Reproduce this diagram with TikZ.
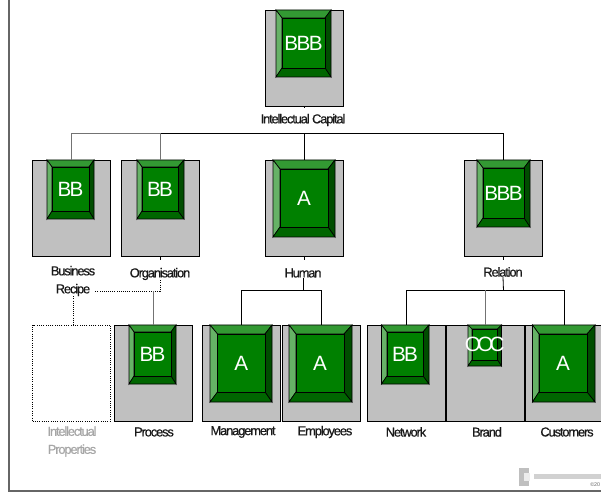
\documentclass[tikz,border=0pt]{standalone}
\usepackage{fontspec}
\setmainfont{Liberation Sans}
\newfontfamily\tightfont[LetterSpace=-9,FakeBold=0.7]{Liberation Sans}
\newfontfamily\capsfont[LetterSpace=-8]{Liberation Sans}
\newfontfamily\squeezefont[LetterSpace=-18]{Liberation Sans}
\usepackage{tikz}
\usetikzlibrary{calc}
\definecolor{pane}{HTML}{C0C0C0}
\definecolor{facegreen}{HTML}{008000}
\definecolor{bevtop}{HTML}{339933}
\definecolor{bevleft}{HTML}{66B266}
\definecolor{bevright}{HTML}{004D00}
\definecolor{bevbottom}{HTML}{006600}
\newcommand{\bevel}[6]{
\coordinate(#1a) at (#2);
\coordinate(#1b) at (#3);
\coordinate(#1c) at (#4);
\coordinate(#1d) at (#5);
\draw[bevline,fill=bevtop](#1a)--(#1a-|#1b)--(#1c-|#1d)--(#1c)--cycle;
\draw[bevline,fill=bevleft](#1a)--(#1c)--(#1c|-#1d)--(#1a|-#1b)--cycle;
\draw[bevline,fill=bevright](#1a-|#1b)--(#1b)--(#1d)--(#1c-|#1d)--cycle;
\draw[bevline,fill=bevbottom](#1a|-#1b)--(#1b)--(#1d)--(#1c|-#1d)--cycle;
\draw[bevline,fill=facegreen](#1c) rectangle (#1d);
\node[grade](#1) at ($(#1c)!.5!(#1d)$) {#6};
}
\begin{document}
\begin{tikzpicture}[x=0.75pt,y=-0.75pt]
\tikzstyle{bigbox}=[draw,line width=0.7pt,fill=pane,inner sep=0,minimum width=58.5pt,minimum height=72pt];
\tikzstyle{ghostbox}=[bigbox,fill=none,densely dotted];
\tikzstyle{bevline}=[line width=0.5pt,draw=black];
\tikzstyle{grade}=[text=white,font=\capsfont\fontsize{15.5}{15.5}\selectfont,inner sep=0];
\tikzstyle{tag}=[align=center,inner sep=0,text=black!90,font=\tightfont\fontsize{9.7}{13.5}\selectfont];
\tikzstyle{wire}=[line width=0.6pt,draw=black];
\tikzstyle{greywire}=[line width=0.7pt,draw=black!55];
\tikzstyle{dotwire}=[line width=0.6pt,densely dotted];
\clip (0,0) rectangle (601,492);
% frame
\draw[line width=1pt,draw=black!60](9,-2)--(9,491)--(603,491);
% boxes
\node[bigbox](capital) at (304,58) {};
\node[bigbox](business) at (71,208) {};
\node[bigbox](organisation) at (160.5,208) {};
\node[bigbox](human) at (304,208) {};
\node[bigbox](relation) at (503.5,208) {};
\node[ghostbox](properties) at (71.5,373) {};
\node[bigbox](process) at (153,373) {};
\node[bigbox](management) at (241,373) {};
\node[bigbox](employees) at (321,373) {};
\node[bigbox](network) at (406,373) {};
\node[bigbox](brand) at (485,373) {};
\node[bigbox](customers) at (564,373) {};
% buttons
\bevel{bcapital}{276,10}{331,77}{282,18}{325,68}{BBB}
\bevel{bbusiness}{47,160}{94,219}{52,167}{89,211}{BB}
\bevel{borganisation}{137,160}{184,219}{142,167}{178,211}{BB}
\bevel{bhuman}{273,160}{335,237}{280,169}{328,227}{A}
\bevel{brelation}{477,160}{530,227}{483,168}{524,218}{BBB}
\bevel{bprocess}{129,325}{176,384}{134,332}{171,376}{BB}
\bevel{bmanagement}{210,325}{272,402}{217.5,334}{265,392}{A}
\bevel{bemployees}{289,325}{352,402}{296,334}{344,392}{A}
\bevel{bnetwork}{381.5,325}{429,384}{387,332}{423,376}{BB}
\bevel{bbrand}{468,325}{501.5,366}{472,329}{497.5,360}{\squeezefont OOC}
\bevel{bcustomers}{532.5,325}{595,402}{539,334}{587,392}{A}
% labels
\node[tag](lcapital) at (303,120) {Intellectual Capital};
\node[tag](lbusiness) at (73,281) {Business\\Recipe};
\node[tag](lorganisation) at (160,274) {Organisation};
\node[tag](lhuman) at (303,273) {Human};
\node[tag](lrelation) at (503,272) {Relation};
\node[tag,text=black!35](lproperties) at (72,441.5) {Intellectual\\Properties};
\node[tag](lprocess) at (154,432) {Process};
\node[tag](lmanagement) at (243,432) {Management};
\node[tag](lemployees) at (325,432) {Employees};
\node[tag](lnetwork) at (406,432) {Network};
\node[tag](lbrand) at (487,432) {Brand};
\node[tag](lcustomers) at (567,432) {Customers};
% connectors
\coordinate(topbus) at (304,133);
\coordinate(humanbus) at (303,290.5);
\coordinate(relationbus) at (503.5,290.5);
\coordinate(orgbus) at (160,291);
\draw[wire](capital.south)--+(0,2);
\draw[wire](human.north)--(human.north|-topbus);
\draw[wire](relation.north)|-(topbus);
\draw[wire](organisation.north|-topbus)--(topbus);
\draw[greywire](business.north)|-(topbus-|organisation.north);
\draw[greywire](organisation.north)--(organisation.north|-topbus);
\draw[wire](human.south)--+(0,4);
\draw[wire](lhuman.south)--(humanbus);
\draw[wire](management.north)|-(humanbus);
\draw[wire](employees.north)|-(humanbus);
\draw[wire](relation.south)--+(0,4);
\draw[wire](lrelation.south)--(relationbus);
\draw[wire](network.north)|-(relationbus);
\draw[wire](customers.north)|-(relationbus);
\draw[greywire](brand.north)--(brand.north|-relationbus);
\draw[wire](organisation.south)--+(0,4);
\draw[dotwire](lorganisation.south)--(orgbus)--(lbusiness.east|-orgbus);
\draw[greywire](process.north)--(process.north|-orgbus);
\draw[dotwire](lbusiness.south)--(lbusiness.south|-properties.north);
% mark
\fill[black!25](519,468) rectangle (529,486);
\fill[white!70!black!25](524,473) rectangle (530,481);
\fill[black!18](534,474) rectangle (603,479);
\node[inner sep=0,text=black!60,font=\fontsize{4}{4}\selectfont,anchor=west](copyr) at (590,485) {©20};
\end{tikzpicture}
\end{document}
